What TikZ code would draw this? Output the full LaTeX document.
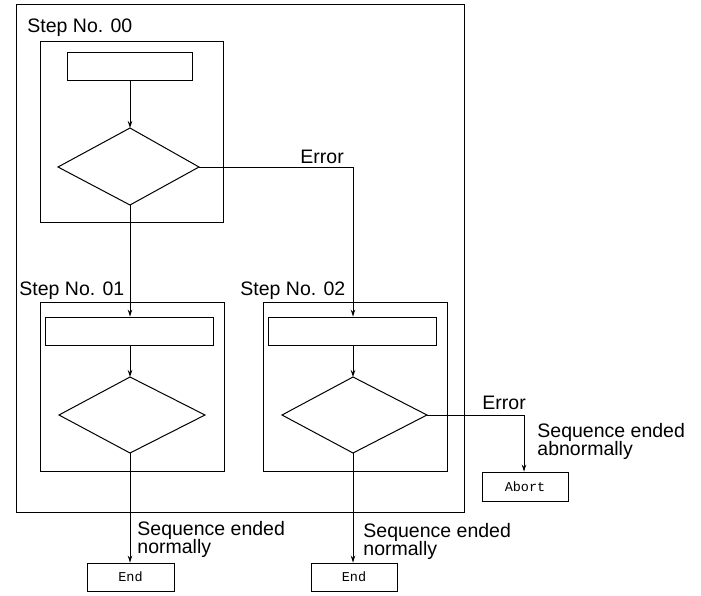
\documentclass[tikz,border=0pt]{standalone}
\usepackage{fontspec}
\setmainfont{Liberation Sans}
\newfontfamily\boxfont{Liberation Mono}
\usetikzlibrary{arrows.meta}
\newcommand{\lblfont}{\fontsize{19.5}{17.5}\selectfont\lineskiplimit=-100pt\relax}
\begin{document}
\begin{tikzpicture}[x=1pt,y=-1pt,
  line width=0.9pt,
  lbl/.style={inner sep=0pt,font={\lblfont},align=left},
  frame/.style={draw,line width=0.9pt},
  proc/.style={draw,line width=0.9pt},
  dia/.style={draw,line width=1pt},
  term/.style={draw,inner sep=0pt,font={\boxfont\fontsize{13.5}{13.5}\selectfont}},
  arr/.style={-{Stealth[length=7pt,width=4.5pt]},line width=0.8pt}]
\useasboundingbox (0,0) rectangle (701,595);
% outer frame
\draw[frame] (16,4) rectangle (464,512);
% step boxes
\draw[frame] (40,41) rectangle (223,222);
\draw[frame] (40,302) rectangle (224,471);
\draw[frame] (263,302) rectangle (447,471);
% step 00
\node[proc,minimum width=125pt,minimum height=28pt,inner sep=0pt] (r0) at (129.5,66) {};
\draw[dia] (130,128) coordinate (d0n) -- (199,167) coordinate (d0e) -- (130,205) coordinate (d0s) -- (58,167) -- cycle;
% step 01
\node[proc,minimum width=168pt,minimum height=28pt,inner sep=0pt] (r1) at (129,331) {};
\draw[dia] (130,377) coordinate (d1n) -- (205,415) coordinate (d1e) -- (130,453) coordinate (d1s) -- (59,415) -- cycle;
% step 02
\node[proc,minimum width=168pt,minimum height=28pt,inner sep=0pt] (r2) at (352,331) {};
\draw[dia] (353,377) coordinate (d2n) -- (427,415) coordinate (d2e) -- (353,453) coordinate (d2s) -- (282,415) -- cycle;
% terminals
\node[term,minimum width=87pt,minimum height=28pt] (e1) at (130.5,577) {End};
\node[term,minimum width=86pt,minimum height=28pt] (e2) at (354,577) {End};
\node[term,minimum width=86pt,minimum height=29pt] (ab) at (525,486.5) {Abort};
% labels
\node[lbl,anchor=base west] (s0) at (27,32) {Step No. 00};
\node[lbl,anchor=base west] (s1) at (19,295) {Step No. 01};
\node[lbl,anchor=base west] (s2) at (240,295) {Step No. 02};
\node[lbl,anchor=base west] (er1) at (300,163) {Error};
\node[lbl,anchor=base west] (er2) at (482,409) {Error};
\node[lbl,anchor=base west] (sa) at (537,455) {Sequence ended\\abnormally};
\node[lbl,anchor=base west] (sn1) at (137,553) {Sequence ended\\normally};
\node[lbl,anchor=base west] (sn2) at (363,555) {Sequence ended\\normally};
% connectors
\draw[arr] (r0.south -| d0n) -- (d0n);
\draw[arr] (d0s) -- (r1.north -| d0s);
\draw[arr] (d0e) -| (r2.north -| d2n);
\draw[arr] (r1.south -| d1n) -- (d1n);
\draw[arr] (r2.south -| d2n) -- (d2n);
\draw[arr] (d1s) -- (e1.north -| d1s);
\draw[arr] (d2s) -- (e2.north -| d2s);
\coordinate (abx) at (524,415);
\draw[arr] (d2e) -- (abx) -- (ab.north -| abx);
\end{tikzpicture}
\end{document}
